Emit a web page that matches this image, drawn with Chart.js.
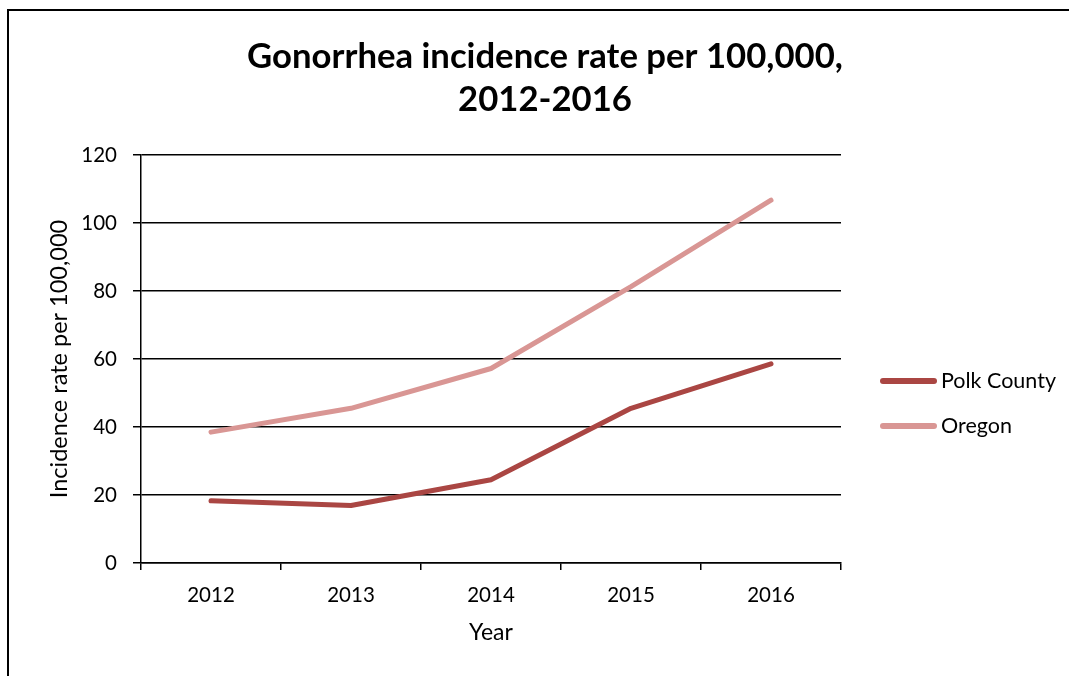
<!DOCTYPE html>
<html>
<head>
<meta charset="utf-8">
<title>Gonorrhea incidence rate per 100,000, 2012-2016</title>
<script src="https://cdn.jsdelivr.net/npm/chart.js@4.4.1/dist/chart.umd.min.js"></script>
<style>
  html, body { margin: 0; padding: 0; background: #fff; }
  #wrap { position: relative; width: 1069px; height: 676px; overflow: hidden; }
  #frame {
    position: absolute; left: 7px; top: 9px; width: 1100px; height: 700px;
    border-left: 2px solid #000; border-top: 2px solid #000;
  }
  canvas { position: absolute; left: 0; top: 0; }
</style>
</head>
<body>
<div id="wrap">
  <div id="frame"></div>
  <canvas id="chart" width="1069" height="676"></canvas>
</div>
<script>
const years = ['2012', '2013', '2014', '2015', '2016'];
const polkCounty = [18.3, 16.9, 24.5, 45.5, 58.6];
const oregon = [38.5, 45.5, 57.2, 81.3, 106.7];
const seriesNames = ['Polk County', 'Oregon'];
const seriesColors = ['#AA4643', '#D99694'];
const yTicks = [0, 20, 40, 60, 80, 100, 120];

const FONT = 'Lato, "DejaVu Sans", sans-serif';

// legend drawn to the right of the plot, like the spreadsheet one
const sideLegend = {
  id: 'sideLegend',
  afterDraw(chart) {
    const ctx = chart.ctx;
    ctx.save();
    chart.data.datasets.forEach((ds, i) => {
      const y = 381 + i * 45;
      ctx.strokeStyle = ds.borderColor;
      ctx.lineWidth = 6;
      ctx.lineCap = 'round';
      ctx.beginPath();
      ctx.moveTo(883, y);
      ctx.lineTo(934, y);
      ctx.stroke();
      ctx.fillStyle = '#000';
      ctx.font = '21.5px ' + FONT;
      ctx.textBaseline = 'middle';
      ctx.textAlign = 'left';
      ctx.fillText(ds.label, 941, y);
    });
    ctx.restore();
  }
};

new Chart(document.getElementById('chart'), {
  type: 'line',
  data: {
    labels: years,
    datasets: [
      {
        label: seriesNames[0],
        data: polkCounty,
        borderColor: seriesColors[0],
        backgroundColor: seriesColors[0],
        borderWidth: 5,
        borderCapStyle: 'round',
        borderJoinStyle: 'round',
        pointRadius: 0,
        tension: 0,
      },
      {
        label: seriesNames[1],
        data: oregon,
        borderColor: seriesColors[1],
        backgroundColor: seriesColors[1],
        borderWidth: 5,
        borderCapStyle: 'round',
        borderJoinStyle: 'round',
        pointRadius: 0,
        tension: 0,
      },
    ],
  },
  options: {
    responsive: false,
    animation: false,
    layout: { padding: { left: 21, right: 0, top: 0, bottom: 0 } },
    plugins: {
      legend: { display: false },
      tooltip: { enabled: false },
      title: {
        display: true,
        text: ['Gonorrhea incidence rate per 100,000,', '2012-2016'],
        color: '#000',
        font: { family: FONT, size: 34.7, weight: 'bold', lineHeight: '43px' },
        padding: { top: 35, bottom: 34 },
      },
    },
    scales: {
      x: {
        offset: true,
        grid: {
          offset: true,
          drawOnChartArea: false,
          color: '#000',
          lineWidth: 1.5,
          tickLength: 7,
        },
        border: { color: '#000', width: 1.5 },
        ticks: { color: '#000', font: { family: FONT, size: 20.5 }, padding: 13 },
        title: {
          display: true,
          text: 'Year',
          color: '#000',
          font: { family: FONT, size: 23 },
          padding: { top: 0, bottom: 30 },
        },
        afterFit: (scale) => { scale.height = 113; },
      },
      y: {
        min: 0,
        max: 120,
        afterBuildTicks: (scale) => { scale.ticks = yTicks.map((v) => ({ value: v })); },
        grid: { color: '#000', lineWidth: 1.5, tickLength: 8 },
        border: { color: '#000', width: 1.5 },
        ticks: { color: '#000', font: { family: FONT, size: 20.5 }, padding: 16 },
        title: {
          display: true,
          text: 'Incidence rate per 100,000',
          color: '#000',
          font: { family: FONT, size: 23.5 },
          padding: { top: 24, bottom: 0 },
        },
        afterFit: (scale) => { scale.width = 120; },
      },
      // empty axis only keeps room for the legend on the right
      space: {
        type: 'linear',
        position: 'right',
        display: true,
        grid: { display: false },
        border: { display: false },
        ticks: { display: false },
        afterFit: (scale) => { scale.width = 228; },
      },
    },
  },
  plugins: [sideLegend],
});
</script>
</body>
</html>
